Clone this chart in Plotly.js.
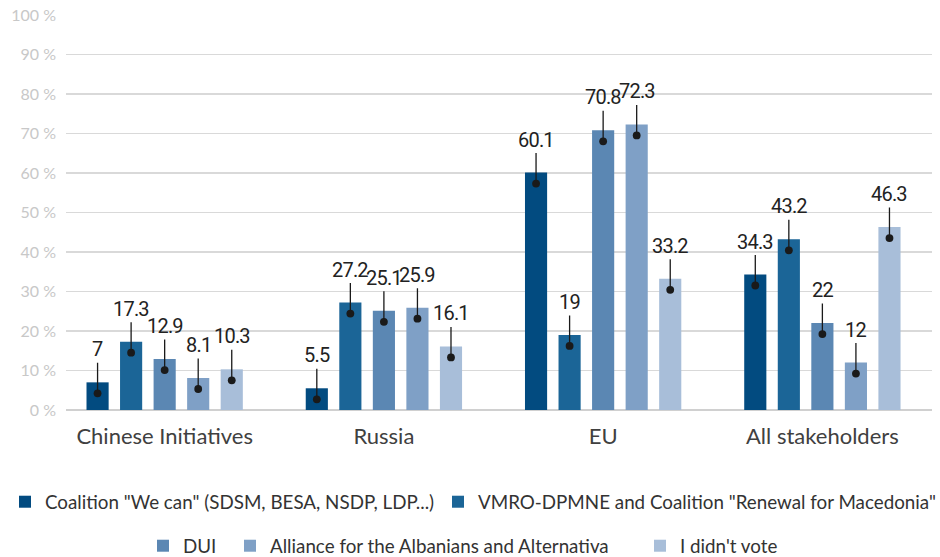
<!DOCTYPE html>
<html><head><meta charset="utf-8">
<script src="https://cdn.plot.ly/plotly-3.0.1.min.js"></script>
<style>html,body{margin:0;padding:0;background:#fff}#chart{width:940px;height:557px}
.annotation-text{letter-spacing:-0.8px}</style>
</head><body><div id="chart"></div>
<script>
const categories = ["Chinese Initiatives", "Russia", "EU", "All stakeholders"];
const seriesNames = [
  'Coalition "We can" (SDSM, BESA, NSDP, LDP...)',
  'VMRO-DPMNE and Coalition "Renewal for Macedonia"',
  'DUI',
  'Alliance for the Albanians and Alternativa',
  "I didn't vote"
];
const coalitionWeCan = [7, 5.5, 60.1, 34.3];
const vmroDpmne = [17.3, 27.2, 19, 43.2];
const dui = [12.9, 25.1, 70.8, 22];
const allianceAlternativa = [8.1, 25.9, 72.3, 12];
const didntVote = [10.3, 16.1, 33.2, 46.3];
const seriesValues = [coalitionWeCan, vmroDpmne, dui, allianceAlternativa, didntVote];
const colors = ["#024b80", "#1b6597", "#5b87b3", "#7fa0c6", "#a8bed9"];
const yTicks = [0,10,20,30,40,50,60,70,80,90,100];
const yTickText = yTicks.map(v => v + " %");

const NFONT = "Roboto, sans-serif";
const LFONT = "Lato, sans-serif";
const bargap = 0.235;
const nS = seriesValues.length;
const pitch = (1 - bargap) / nS;
const catIdx = categories.map((c, i) => i);

// legend placement (text start px, row centre px) per series
const legendKeys = ["legend", "legend2", "legend3", "legend4", "legend5"];
const legendTextX = [45, 478, 183, 270, 680];
const legendRowY = [502, 502, 546, 546, 546];

const traces = seriesValues.map((vals, s) => ({
  type: "bar",
  name: seriesNames[s],
  x: catIdx,
  y: vals,
  marker: {color: colors[s]},
  legend: legendKeys[s],
  hoverinfo: "y"
}));

const annotations = [];
seriesValues.forEach((vals, s) => {
  vals.forEach((v, c) => {
    annotations.push({
      x: c + (s - (nS - 1) / 2) * pitch,
      y: v,
      xref: "x", yref: "y",
      text: String(v),
      showarrow: true,
      arrowhead: 6, arrowsize: 1.5, arrowwidth: 1.3,
      arrowcolor: "#1a1a1a",
      ax: 0, ay: -44,
      yshift: -11,
      font: {family: NFONT, size: 20, color: "#222"}
    });
  });
});

const layout = {
  width: 940, height: 557,
  margin: {l: 66, r: 8, t: 15, b: 147},
  paper_bgcolor: "#fff", plot_bgcolor: "#fff",
  barmode: "group", bargap: bargap, bargroupgap: 0.34,
  showlegend: true,
  xaxis: {
    range: [-0.45, 3.5],
    tickmode: "array", tickvals: catIdx, ticktext: categories,
    showgrid: false, zeroline: false,
    showline: false,
    tickfont: {family: LFONT, size: 22, color: "#404040"},
    ticks: "", ticklabelstandoff: 11
  },
  yaxis: {
    range: [0, 100],
    tickmode: "array", tickvals: yTicks, ticktext: yTickText,
    showgrid: true, gridcolor: "#d9d9d9", gridwidth: 1.5,
    zeroline: true, zerolinecolor: "#d0d0d0", zerolinewidth: 1.5,
    tickfont: {family: LFONT, size: 16, color: "#c8c8c8"},
    ticks: "", ticklabelstandoff: 9
  },
  annotations: annotations
};
legendKeys.forEach((k, s) => {
  layout[k] = {
    orientation: "h", xref: "container", yref: "container",
    x: (legendTextX[s] - 40) / 940, xanchor: "left",
    y: 1 - legendRowY[s] / 557, yanchor: "middle",
    font: {family: LFONT, size: 18.8, color: "#333"}, itemclick: false
  };
});
Plotly.newPlot("chart", traces, layout, {displayModeBar: false, staticPlot: true});
</script></body></html>
